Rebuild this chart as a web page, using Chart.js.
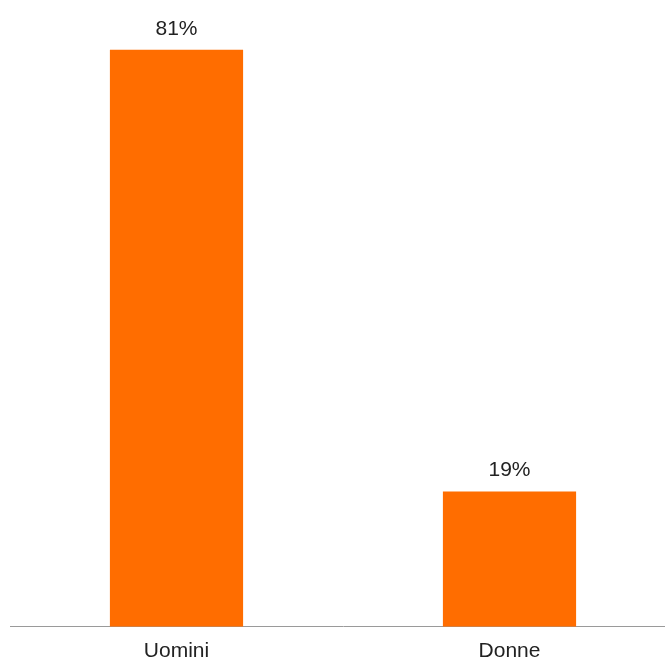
<!DOCTYPE html>
<html>
<head>
<meta charset="utf-8">
<script src="https://cdn.jsdelivr.net/npm/chart.js@4/dist/chart.umd.min.js"></script>
<style>
  html, body { margin: 0; padding: 0; background: #fff; overflow: hidden; }
  #wrap { width: 665px; height: 660px; overflow: hidden; }
  canvas { display: block; }
</style>
</head>
<body>
<div id="wrap"><canvas id="chart" width="680" height="676"></canvas></div>
<script>
  // dati: quota per genere (%)
  const categories = ['Uomini', 'Donne'];
  const values = [81, 19];

  const ORANGE = '#ff6d00';
  const FONT = '"Liberation Sans", Arial, Helvetica, sans-serif';

  // etichette percentuali sopra le barre
  const valueLabels = {
    id: 'valueLabels',
    afterDatasetsDraw(chart) {
      const ctx = chart.ctx;
      const meta = chart.getDatasetMeta(0);
      ctx.save();
      ctx.font = '21px ' + FONT;
      ctx.fillStyle = '#222';
      ctx.textAlign = 'center';
      ctx.textBaseline = 'alphabetic';
      meta.data.forEach((bar, i) => {
        ctx.fillText(values[i] + '%', bar.x, bar.y - 15);
      });
      ctx.restore();
    }
  };

  new Chart(document.getElementById('chart'), {
    type: 'bar',
    data: {
      labels: categories,
      datasets: [{
        data: values,
        backgroundColor: ORANGE,
        borderWidth: 0,
        barPercentage: 0.4,
        categoryPercentage: 1
      }]
    },
    options: {
      responsive: false,
      animation: false,
      layout: { padding: { left: 10, right: 4, top: 0, bottom: 0 } },
      plugins: {
        legend: { display: false },
        tooltip: { enabled: false }
      },
      scales: {
        x: {
          grid: { display: false, drawTicks: false },
          border: { display: true, color: '#9a9a9a', width: 1 },
          ticks: {
            color: '#222',
            padding: 12,
            font: { family: FONT, size: 21 }
          }
        },
        y: {
          display: false,
          min: 0,
          max: 88
        }
      }
    },
    plugins: [valueLabels]
  });
</script>
</body>
</html>
